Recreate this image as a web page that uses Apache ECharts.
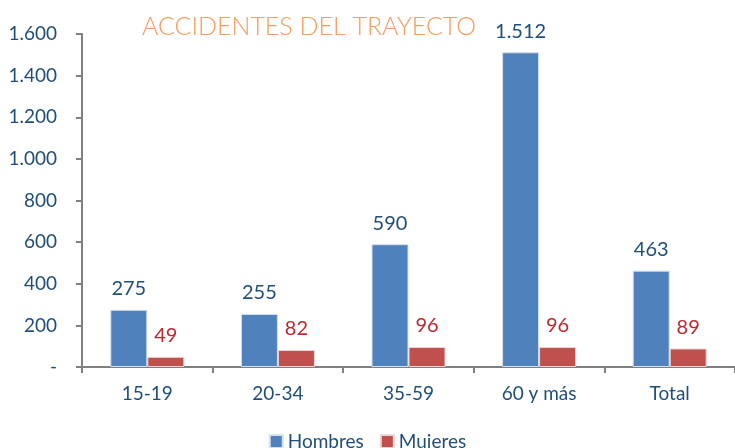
<!DOCTYPE html>
<html><head><meta charset="utf-8">
<script src="https://cdn.jsdelivr.net/npm/echarts@6/dist/echarts.min.js"></script>
<style>html,body{margin:0;padding:0;background:#fff}#c{width:735px;height:448px}</style>
</head><body><div id="c"></div>
<script>
const categories = ['15-19', '20-34', '35-59', '60 y más', 'Total'];
const hombres = [275, 255, 590, 1512, 463];
const mujeres = [49, 82, 96, 96, 89];
const yTicks = [0, 200, 400, 600, 800, 1000, 1200, 1400, 1600];

const FONT = 'Lato';
function fmt(v){ if(v===0) return '-'; return String(v).replace(/\B(?=(\d{3})+(?!\d))/g, '.'); }

const chart = echarts.init(document.getElementById('c'), null, {renderer:'canvas'});
chart.setOption({
  animation:false,
  title:{text:'ACCIDENTES DEL TRAYECTO', left:137, top:9,
    textStyle:{fontFamily:FONT, fontWeight:300, fontSize:25, color:'#F79B5E'}},
  legend:{top:427, left:'center', itemWidth:13, itemHeight:13, itemGap:16,
    icon:'rect', textStyle:{fontFamily:FONT, fontSize:19, color:'#1F4E79'},
    data:['Hombres','Mujeres']},
  grid:{left:82, right:0, top:34, bottom:81, containLabel:false},
  xAxis:{type:'category', data:categories,
    axisLine:{lineStyle:{color:'#808080', width:2}},
    axisTick:{show:true, length:6, lineStyle:{color:'#808080', width:2}},
    axisLabel:{fontFamily:FONT, fontSize:19, color:'#1F4E79', margin:17}},
  yAxis:{type:'value', min:0, max:1600, interval:200,
    axisLine:{show:true, lineStyle:{color:'#808080', width:2}},
    axisTick:{show:true, length:6, lineStyle:{color:'#808080', width:2}},
    splitLine:{show:false},
    axisLabel:{fontFamily:FONT, fontSize:19, color:'#1F4E79', margin:25,
      formatter:v => yTicks.includes(v) ? fmt(v) : ''}},
  series:[
    {name:'Hombres', type:'bar', data:hombres, barWidth:37, barGap:'0%',
      itemStyle:{color:'#4F81BD', borderColor:'#D6E0EE', borderWidth:1},
      label:{show:true, position:'top', distance:11, fontFamily:FONT, fontSize:20, color:'#1F4E79', formatter:p=>fmt(p.value)}},
    {name:'Mujeres', type:'bar', data:mujeres, barWidth:37,
      itemStyle:{color:'#C0504D', borderColor:'#EED6D6', borderWidth:1},
      label:{show:true, position:'top', distance:11, fontFamily:FONT, fontSize:20, color:'#C0282D', formatter:p=>fmt(p.value)}}
  ]
});
</script></body></html>
